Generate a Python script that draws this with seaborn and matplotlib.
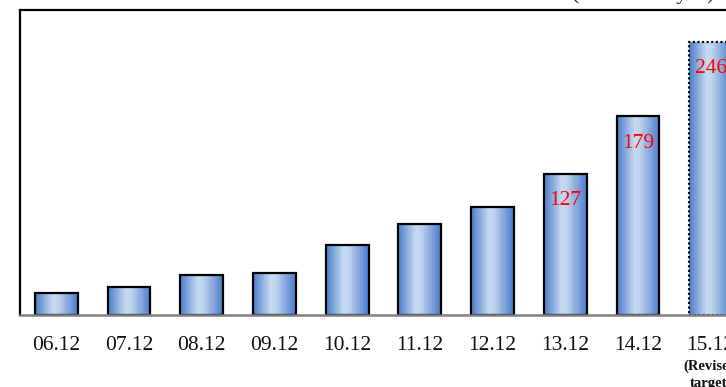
import numpy as np
import pandas as pd
import matplotlib
matplotlib.use("Agg")
import matplotlib.pyplot as plt
from matplotlib.colors import LinearSegmentedColormap
import seaborn as sns

# Fiscal year-end periods and balances (billions of yen)
periods = ["06.12", "07.12", "08.12", "09.12", "10.12",
           "11.12", "12.12", "13.12", "14.12", "15.12"]
balances = [20, 25, 36, 38, 63, 82, 97, 127, 179, 246]
labelled_periods = ["13.12", "14.12", "15.12"]
target_periods = ["15.12"]
target_note = ["(Revised", "target)"]
unit_label = "(Billions of yen)"

sns.set_style("white")
plt.rcParams["font.family"] = ["Liberation Serif", "DejaVu Serif"]

df = pd.DataFrame({"period": periods, "balance": balances})

fig = plt.figure(figsize=(7.26, 3.87), dpi=100)
W, H = 726.0, 387.0
# plot area: left spine at x=20px, top at 10px, baseline at 315px; right side runs off the canvas
ax = fig.add_axes([20 / W, (H - 315) / H, 727 / W, 305 / H])

sns.barplot(data=df, x="period", y="balance", ax=ax, width=0.59,
            color="#7da4dd", edgecolor="black", linewidth=1.6, saturation=1)

# horizontal gradient shading for each bar, clipped to the bar outline
cmap = LinearSegmentedColormap.from_list(
    "barshade", [(0.0, "#4b7dcb"), (0.42, "#c9dbf2"), (0.55, "#bcd1ee"), (1.0, "#4a7bcb")])
grad = np.linspace(0, 1, 256).reshape(1, -1)
for p, per in zip(ax.patches, periods):
    x0, y0 = p.get_x(), p.get_y()
    w, h = p.get_width(), p.get_height()
    im = ax.imshow(grad, cmap=cmap, aspect="auto", extent=[x0, x0 + w, y0, y0 + h],
                   zorder=1, interpolation="bilinear")
    im.set_clip_path(p)
    p.set_facecolor("none")
    p.set_zorder(2)
    if per in target_periods:
        p.set_linestyle((0, (1, 1.2)))
        p.set_linewidth(1.5)
ax.set_xlim(-0.5, 9.5)
ax.set_ylim(0, 274.5)

# value labels inside the top of the latest bars
for i, (per, val) in enumerate(zip(periods, balances)):
    if per in labelled_periods:
        ax.annotate(str(val), xy=(i, val), xytext=(0, -19.5), textcoords="offset points",
                    ha="center", va="center", color="#ff0000", fontsize=15.5, zorder=5)

# frame styling
for side in ["left", "top", "right"]:
    ax.spines[side].set_color("black")
    ax.spines[side].set_linewidth(1.6)
ax.spines["bottom"].set_color("#808080")
ax.spines["bottom"].set_linewidth(1.8)
ax.set_yticks([])
ax.tick_params(axis="x", length=0, pad=15, labelsize=15.5, colors="#111111")
ax.set_xlabel("")
ax.set_ylabel("")

# note under the target period
for per in target_periods:
    xi = periods.index(per)
    ax.annotate(target_note[0], xy=(xi, 0), xycoords=("data", "axes fraction"),
                xytext=(0, -37), textcoords="offset points", ha="center", va="center",
                fontsize=10.5, fontweight="bold", color="#111111")
    ax.annotate(target_note[1], xy=(xi, 0), xycoords=("data", "axes fraction"),
                xytext=(0, -49), textcoords="offset points", ha="center", va="center",
                fontsize=10.5, fontweight="bold", color="#111111")

fig.text(714 / W, 1 + 1.0 / H, unit_label, ha="right", va="baseline", fontsize=15.5,
         color="#111111")

fig.savefig("out.png", dpi=100)
